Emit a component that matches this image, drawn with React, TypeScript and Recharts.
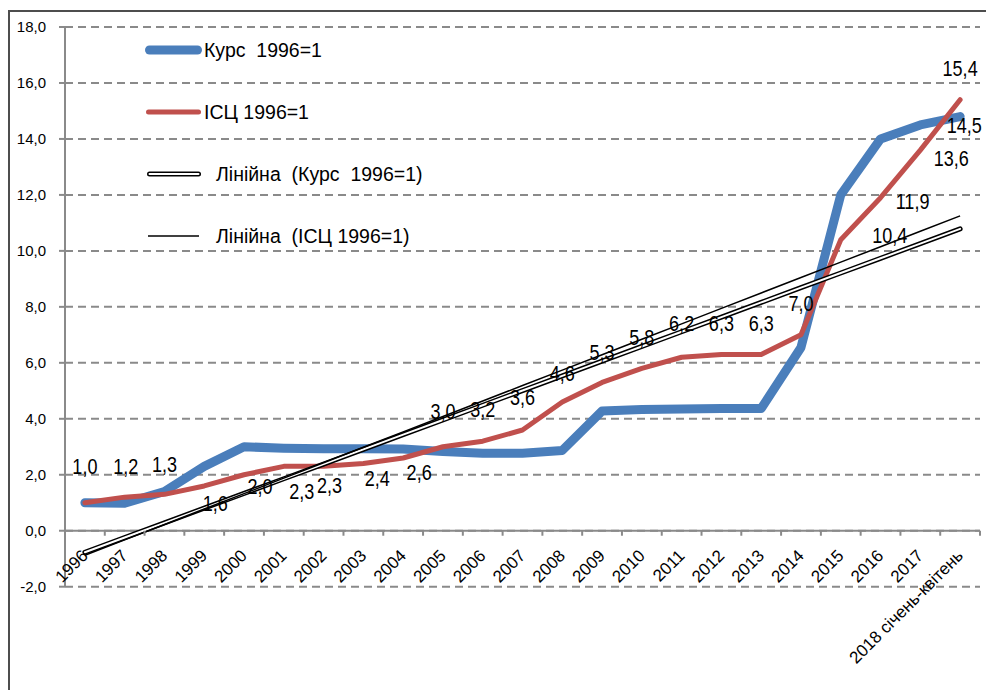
import React from 'react';
import { LineChart, Line, XAxis, YAxis, CartesianGrid, ReferenceLine, Legend, LabelList } from 'recharts';

const categories = [
  '1996', '1997', '1998', '1999', '2000', '2001', '2002', '2003', '2004', '2005', '2006', '2007',
  '2008', '2009', '2010', '2011', '2012', '2013', '2014', '2015', '2016', '2017', '2018 січень-квітень',
];
const kursValues = [
  1.0, 0.98, 1.4, 2.3, 3.0, 2.95, 2.93, 2.93, 2.92, 2.83, 2.77, 2.77,
  2.87, 4.28, 4.33, 4.35, 4.37, 4.37, 6.55, 12.0, 14.0, 14.5, 14.8,
];
const iscValues = [
  1.0, 1.2, 1.3, 1.6, 2.0, 2.3, 2.3, 2.4, 2.6, 3.0, 3.2, 3.6,
  4.6, 5.3, 5.8, 6.2, 6.3, 6.3, 7.0, 10.4, 11.9, 13.6, 15.4,
];
const yTicks = [-2, 0, 2, 4, 6, 8, 10, 12, 14, 16, 18];
const seriesNames = {
  kurs: 'Курс  1996=1',
  isc: 'ІСЦ 1996=1',
  trendKurs: 'Лінійна  (Курс  1996=1)',
  trendIsc: 'Лінійна  (ІСЦ 1996=1)',
};
const kursLabelIndex = 21;

// label placement tweaks (dx, dy in px) for the ІСЦ labels, matching the reference
const iscLabelOffsets: [number, number][] = [
  [0, -36], [1, -31], [0, -30], [11, 17], [16, 12], [18, 25], [6, 19], [14, 15], [16, 14],
  [0, -35], [0, -32], [0, -33], [0, -29], [0, -30], [0, -31], [0, -34], [0, -31], [0, -31],
  [0, -31], [49, -4], [32, 4], [31, 8], [0, -31],
];

function linearTrend(values: number[]): number[] {
  const n = values.length;
  const xs = values.map((_, i) => i + 1);
  const mx = xs.reduce((a, b) => a + b, 0) / n;
  const my = values.reduce((a, b) => a + b, 0) / n;
  let sxy = 0;
  let sxx = 0;
  xs.forEach((x, i) => {
    sxy += (x - mx) * (values[i] - my);
    sxx += (x - mx) * (x - mx);
  });
  const slope = sxy / sxx;
  const icpt = my - slope * mx;
  return xs.map((x) => icpt + slope * x);
}

const trendKurs = linearTrend(kursValues);
const trendIsc = linearTrend(iscValues);

const data = categories.map((cat, i) => ({
  cat,
  kurs: kursValues[i],
  isc: iscValues[i],
  trendKurs: trendKurs[i],
  trendIsc: trendIsc[i],
}));

const W = 986;
const H = 690;
const MT = 27;
const MR = 6;
const YW = 65;
const XH = 103.3;
const PLOT_W = W - YW - MR;
const PLOT_H = H - MT - XH;
const BAND = PLOT_W / categories.length;
const Y_MIN = -2;
const Y_MAX = 18;
const ZERO_Y = MT + (PLOT_H * (Y_MAX - 0)) / (Y_MAX - Y_MIN);

const BLUE = '#4A7EBB';
const RED = '#C0504D';
const AXIS = '#8a8a8a';
const SANS = "'Liberation Sans', Arial, sans-serif";
const NARROW_SCALE = 0.82;

const fmt = (v: number) => v.toFixed(1).replace('.', ',');

const XTick = (props: any) => {
  const { x, payload } = props;
  const half = BAND / 2;
  const isLast = payload.value === categories[categories.length - 1];
  const ax = x + 4;
  const ay = ZERO_Y + 26;
  return (
    <g>
      <line x1={x - half} x2={x - half} y1={ZERO_Y} y2={ZERO_Y + 5} stroke={AXIS} strokeWidth={2} />
      {isLast && <line x1={x + half} x2={x + half} y1={ZERO_Y} y2={ZERO_Y + 5} stroke={AXIS} strokeWidth={2} />}
      <text
        x={ax}
        y={ay}
        textAnchor="end"
        transform={`rotate(-45 ${ax} ${ay})`}
        fontFamily={SANS}
        fontSize={17}
        fill="#000"
      >
        {payload.value}
      </text>
    </g>
  );
};

const NarrowText = ({ x, y, children }: { x: number; y: number; children: React.ReactNode }) => (
  <text
    x={0}
    y={0}
    transform={`translate(${x} ${y}) scale(${NARROW_SCALE} 1)`}
    textAnchor="middle"
    dominantBaseline="central"
    fontFamily={SANS}
    fontSize={22}
    fill="#000"
  >
    {children}
  </text>
);

const IscLabel = (props: any) => {
  const { x, y, value, index } = props;
  const off = iscLabelOffsets[index] || [0, -31];
  return <NarrowText x={x + off[0]} y={y + off[1]}>{fmt(Number(value))}</NarrowText>;
};

const KursLabel = (props: any) => {
  const { x, y, value, index } = props;
  if (index !== kursLabelIndex) return null;
  return <NarrowText x={x + 44} y={y}>{fmt(Number(value))}</NarrowText>;
};

const legendLayout: Record<string, { key: string; cy: number; tx: number }> = {
  [seriesNames.kurs]: { key: 'kurs', cy: 50, tx: 204 },
  [seriesNames.isc]: { key: 'isc', cy: 112, tx: 204 },
  [seriesNames.trendKurs]: { key: 'trendKurs', cy: 174, tx: 216 },
  [seriesNames.trendIsc]: { key: 'trendIsc', cy: 236, tx: 216 },
};

const renderSample = (key: string, cy: number) => {
  if (key === 'kurs')
    return <line x1={149.5} x2={197.5} y1={cy} y2={cy} stroke={BLUE} strokeWidth={9} strokeLinecap="round" />;
  if (key === 'isc')
    return <line x1={148.5} x2={198.5} y1={cy} y2={cy} stroke={RED} strokeWidth={5} strokeLinecap="round" />;
  if (key === 'trendKurs')
    return (
      <g>
        <line x1={149.5} x2={198.5} y1={cy} y2={cy} stroke="#000" strokeWidth={5} strokeLinecap="round" />
        <line x1={149.5} x2={198.5} y1={cy} y2={cy} stroke="#fff" strokeWidth={2} strokeLinecap="round" />
      </g>
    );
  return <line x1={148} x2={199} y1={cy} y2={cy} stroke="#000" strokeWidth={1.5} />;
};

const renderLegend = (props: any) => {
  const payload = (props.payload || []) as any[];
  return (
    <svg width={500} height={260} style={{ display: 'block' }}>
      {payload.map((entry) => {
        const name = String(entry.value);
        const lay = legendLayout[name];
        if (!lay) return null;
        return (
          <g key={name}>
            {renderSample(lay.key, lay.cy)}
            <text
              x={lay.tx}
              y={lay.cy}
              dominantBaseline="central"
              fontFamily={SANS}
              fontSize={19.5}
              fill="#000"
              xmlSpace="preserve"
              style={{ whiteSpace: 'pre' }}
            >
              {name}
            </text>
          </g>
        );
      })}
    </svg>
  );
};

export default function App() {
  return (
    <div style={{ position: 'relative', width: W, height: H, overflow: 'hidden', background: '#fff' }}>
      <style>{'html,body{margin:0;padding:0;overflow:hidden;background:#fff}'}</style>
      <div
        style={{
          position: 'absolute',
          left: 8,
          top: 10,
          width: 1000,
          height: 700,
          boxSizing: 'border-box',
          borderLeft: '2px solid #4d4d4d',
          borderTop: '2px solid #4d4d4d',
        }}
      />
      <div style={{ position: 'absolute', left: 0, top: 0 }}>
        <LineChart width={W} height={H} data={data} margin={{ top: MT, right: MR, left: 0, bottom: 0 }}>
          <CartesianGrid vertical={false} stroke={AXIS} strokeDasharray="8 5" strokeWidth={2} />
          <XAxis
            dataKey="cat"
            interval={0}
            height={XH}
            axisLine={false}
            tickLine={false}
            tickSize={0}
            padding={{ left: BAND / 2, right: BAND / 2 }}
            tick={<XTick />}
          />
          <YAxis
            type="number"
            domain={[Y_MIN, Y_MAX]}
            ticks={yTicks}
            interval={0}
            width={YW}
            tickFormatter={fmt}
            axisLine={{ stroke: AXIS, strokeWidth: 2 }}
            tickLine={{ stroke: AXIS, strokeWidth: 2 }}
            tickSize={6}
            tickMargin={13}
            tick={{ fontFamily: SANS, fontSize: 15, fill: '#000' }}
          />
          <ReferenceLine y={0} stroke={AXIS} strokeWidth={2} />
          <Legend
            layout="vertical"
            align="center"
            verticalAlign="middle"
            wrapperStyle={{ left: 0, top: 0, width: 500, height: 260 }}
            content={renderLegend}
          />
          <Line
            type="linear"
            dataKey="kurs"
            name={seriesNames.kurs}
            stroke={BLUE}
            strokeWidth={9}
            strokeLinecap="round"
            strokeLinejoin="round"
            dot={false}
            activeDot={false}
            isAnimationActive={false}
          >
            <LabelList dataKey="kurs" content={<KursLabel />} />
          </Line>
          <Line
            type="linear"
            dataKey="isc"
            name={seriesNames.isc}
            stroke={RED}
            strokeWidth={5}
            strokeLinecap="round"
            strokeLinejoin="round"
            dot={false}
            activeDot={false}
            isAnimationActive={false}
          >
            <LabelList dataKey="isc" content={<IscLabel />} />
          </Line>
          <Line
            type="linear"
            dataKey="trendKurs"
            name={seriesNames.trendKurs}
            stroke="#000"
            strokeWidth={5}
            strokeLinecap="round"
            dot={false}
            activeDot={false}
            isAnimationActive={false}
          />
          <Line
            type="linear"
            dataKey="trendKurs"
            name="trendKursInner"
            legendType="none"
            stroke="#fff"
            strokeWidth={2}
            strokeLinecap="round"
            dot={false}
            activeDot={false}
            isAnimationActive={false}
          />
          <Line
            type="linear"
            dataKey="trendIsc"
            name={seriesNames.trendIsc}
            stroke="#000"
            strokeWidth={1.5}
            dot={false}
            activeDot={false}
            isAnimationActive={false}
          />
        </LineChart>
      </div>
    </div>
  );
}
